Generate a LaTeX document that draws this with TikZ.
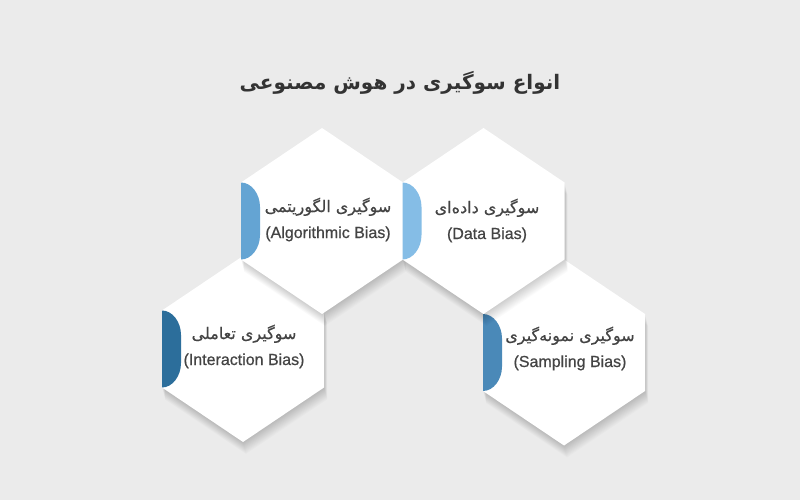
\documentclass[tikz,border=0pt]{standalone}
\usepackage{fontspec}
\setmainfont{Liberation Sans}
\newfontfamily\enmed[FakeBold=0.7]{Liberation Sans}
\newfontfamily\fa[Script=Arabic]{DejaVu Sans}
\newfontfamily\famed[Script=Arabic,FakeBold=0.5]{DejaVu Sans}
\TeXXeTstate=1
\definecolor{bg}{HTML}{EBEBEB}
\definecolor{txt}{HTML}{444444}
\definecolor{ttl}{HTML}{333333}
\definecolor{tabA}{HTML}{64A4D3}
\definecolor{tabB}{HTML}{85BDE6}
\definecolor{tabC}{HTML}{2C6E9B}
\definecolor{tabD}{HTML}{4A89B8}
\tikzset{
  hexfill/.style={fill=white},
  hexshadow/.style={fill=black, fill opacity=0.016},
  fatext/.style={font=\famed\fontsize{16}{18}\selectfont, text=txt, anchor=base, inner sep=0pt},
  entext/.style={font=\enmed\fontsize{16}{18}\selectfont, text=txt, anchor=base, inner sep=0pt},
}
\newcommand\hexpath{(0,-93) -- (81,-38.5) -- (81,38.5) -- (0,93) -- (-81,38.5) -- (-81,-38.5) -- cycle}
% #1 name, #2 center x, #3 center y, #4 tab colour
\newcommand\hexcell[4]{%
  \coordinate (#1) at (#2,#3);
  \begin{scope}[shift={(#1)}]
    \foreach \k in {1,...,12}{\fill[hexshadow, shift={(0.25*\k,\k)}] \hexpath;}
    \fill[hexfill] \hexpath;
    \fill[#4] (-81,-38.5) .. controls (-70.5,-38.5) and (-62,-27) .. (-62,-14)
      -- (-62,14) .. controls (-62,27) and (-70.5,38.5) .. (-81,38.5) -- cycle;
  \end{scope}}
\begin{document}
\begin{tikzpicture}[x=1pt,y=-1pt]
\fill[bg] (0,0) rectangle (800,500);
\useasboundingbox (0,0) rectangle (800,500);
\node[font=\fa\bfseries\fontsize{20}{24}\selectfont, text=ttl, anchor=base, inner sep=0pt] (title) at (400,90) {\beginR انواع سوگیری در هوش مصنوعی\endR};
\hexcell{h3}{243}{349}{tabC}
\hexcell{h4}{564}{352.5}{tabD}
\hexcell{h1}{322}{221}{tabA}
\hexcell{h2}{483.5}{221}{tabB}
\node[fatext] (p1) at (328,212) {\beginR سوگیری الگوریتمی\endR};
\node[entext] (e1) at (328,238) {(Algorithmic Bias)};
\node[fatext] (p2) at (487,213) {\beginR سوگیری داده‌ای\endR};
\node[entext] (e2) at (487,239) {(Data Bias)};
\node[fatext] (p3) at (244,339) {\beginR سوگیری تعاملی\endR};
\node[entext] (e3) at (244,365) {(Interaction Bias)};
\node[fatext] (p4) at (570,341) {\beginR سوگیری نمونه‌گیری\endR};
\node[entext] (e4) at (570,367) {(Sampling Bias)};
\end{tikzpicture}
\end{document}
